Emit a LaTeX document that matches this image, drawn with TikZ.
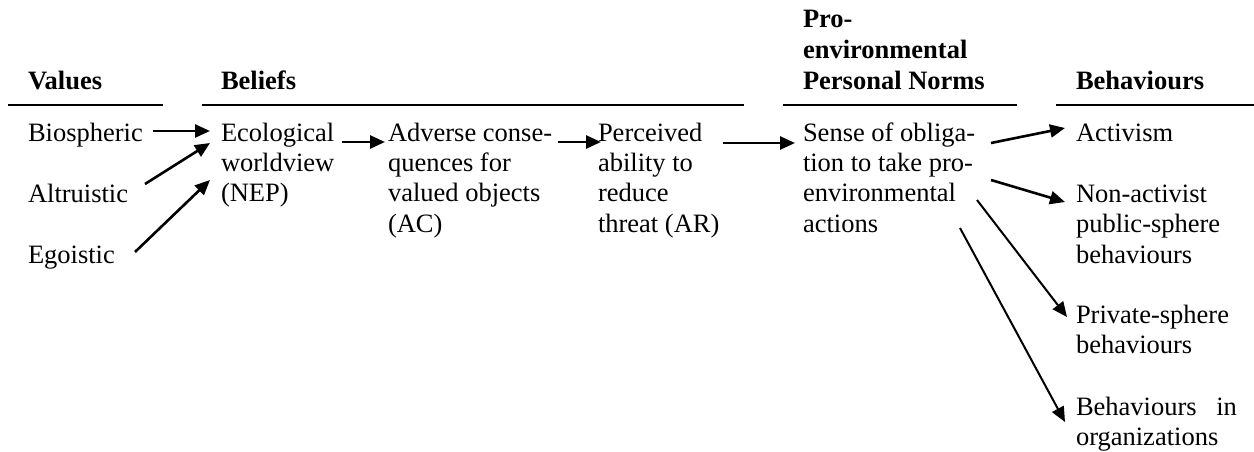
\documentclass[tikz,border=0pt]{standalone}
\usepackage{fontspec}
\setmainfont{Liberation Serif}
\usetikzlibrary{arrows.meta}
\newcommand{\mylines}[1]{\begin{tabular}[t]{@{}l@{}}#1\end{tabular}}
\begin{document}
\begin{tikzpicture}[x=1pt,y=-1pt,
  txt/.style={anchor=base west,inner sep=0pt,outer sep=0pt,
    font=\fontsize{26.5}{30.5}\selectfont},
  head/.style={txt,font=\fontsize{26.5}{31}\selectfont\bfseries},
  rulel/.style={line width=2pt},
  arr/.style={line width=2.6pt,-{Triangle[length=15pt,width=13pt]}},
  arrthin/.style={line width=2pt,-{Triangle[length=15pt,width=13pt]}}]
\useasboundingbox (0,0) rectangle (1254,452);
% headings
\node[head] (hval) at (28,90) {Values};
\node[head] (hbel) at (221,90) {Beliefs};
\node[head] (hnorm) at (803,28) {\mylines{Pro-\\environmental\\Personal Norms}};
\node[head] (hbeh) at (1076,90) {Behaviours};
% rules
\draw[rulel] (8,105.5) -- (163,105.5);
\draw[rulel] (202,105.5) -- (744,105.5);
\draw[rulel] (783,105.5) -- (1017,105.5);
\draw[rulel] (1056,105.5) -- (1254,105.5);
% values
\node[txt] (bio) at (28,141) {Biospheric};
\node[txt] (alt) at (28,202) {Altruistic};
\node[txt] (ego) at (28,263) {Egoistic};
% beliefs
\node[txt] (eco) at (221,141) {\mylines{Ecological\\worldview\\(NEP)}};
\node[txt] (adv) at (388,141) {\mylines{Adverse conse-\\quences for\\valued objects\\(AC)}};
\node[txt] (per) at (598,141) {\mylines{Perceived\\ability to\\reduce\\threat (AR)}};
% norms
\node[txt] (sense) at (803,141) {\mylines{Sense of obliga-\\tion to take pro-\\environmental\\actions}};
% behaviours
\node[txt] (act) at (1076,141) {Activism};
\node[txt] (non) at (1076,202) {\mylines{Non-activist\\public-sphere\\behaviours}};
\node[txt] (priv) at (1076,323) {\mylines{Private-sphere\\behaviours}};
\node[txt] (org) at (1076,415) {\mylines{\makebox[161pt][s]{Behaviours in}\\organizations}};
% arrows
\draw[arr] ([shift={(125,-10)}]bio.base west) -- ([shift={(-11,-10)}]eco.base west);
\draw[arr] ([shift={(117,-18)}]alt.base west) -- ([shift={(-11,2)}]eco.base west);
\draw[arr] ([shift={(107,-11)}]ego.base west) -- ([shift={(-11,39)}]eco.base west);
\draw[arr] ([shift={(121,1)}]eco.base west) -- ([shift={(-3,1)}]adv.base west);
\draw[arr] ([shift={(170,1)}]adv.base west) -- ([shift={(3,1)}]per.base west);
\draw[arr] ([shift={(125,2)}]per.base west) -- ([shift={(-8,2)}]sense.base west);
\draw[arr] ([shift={(188,2)}]sense.base west) -- ([shift={(-11,-13)}]act.base west);
\draw[arr] ([shift={(188,39)}]sense.base west) -- ([shift={(-11,0)}]non.base west);
\draw[arrthin] ([shift={(174,59)}]sense.base west) -- ([shift={(-9,-6)}]priv.base west);
\draw[arrthin] ([shift={(157,87)}]sense.base west) -- ([shift={(-11,7)}]org.base west);
\end{tikzpicture}
\end{document}
